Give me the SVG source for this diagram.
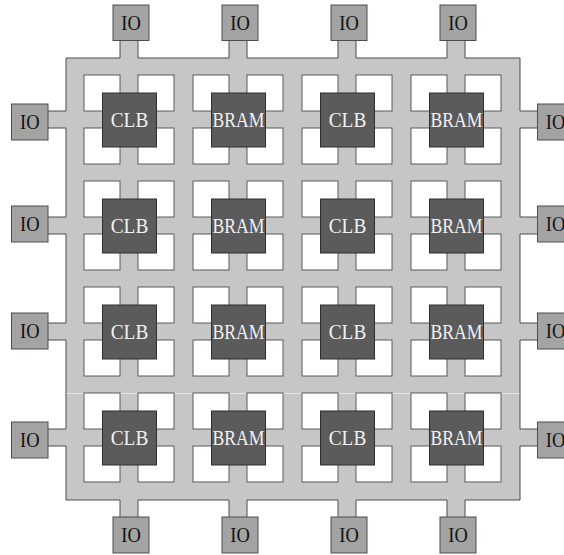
<svg xmlns="http://www.w3.org/2000/svg" xmlns:xlink="http://www.w3.org/1999/xlink" width="564" height="555" viewBox="0 0 564 555">
<style>
.fab{fill:#c6c6c6;stroke:#4d4d4d;stroke-width:1}
.hole{fill:#ffffff;stroke:#5a5a5a;stroke-width:1}
.blk{fill:#5b5b5b;stroke:#2e2e2e;stroke-width:1}
.io{fill:#a3a3a3;stroke:#4d4d4d;stroke-width:1}
.t{font-family:"Liberation Serif","Times New Roman",serif;text-anchor:middle}
.tw{fill:#f2f2f2;font-size:21px}
.tk{fill:#111111;font-size:20px}
</style>
<defs>
<g id="cell">
<rect class="hole" x="-45" y="-44.5" width="36" height="36"/>
<rect class="hole" x="9" y="-44.5" width="36" height="36"/>
<rect class="hole" x="-45" y="8.5" width="36" height="36"/>
<rect class="hole" x="9" y="8.5" width="36" height="36"/>
</g>
</defs>
<g id="connectors">
<path class="fab" d="M66,58 L120,58 L120,38 L138,38 L138,58 L229,58 L229,38 L247,38 L247,58 L338,58 L338,38 L356,38 L356,58 L447,58 L447,38 L465,38 L465,58 L520,58 L520,111 L540,111 L540,128 L520,128 L520,217 L540,217 L540,234 L520,234 L520,323 L540,323 L540,340 L520,340 L520,429 L540,429 L540,446 L520,446 L520,500 L465,500 L465,520 L447,520 L447,500 L356,500 L356,520 L338,520 L338,500 L247,500 L247,520 L229,520 L229,500 L138,500 L138,520 L120,520 L120,500 L66,500 L66,446 L46,446 L46,429 L66,429 L66,340 L46,340 L46,323 L66,323 L66,234 L46,234 L46,217 L66,217 L66,128 L46,128 L46,111 L66,111 Z"/>
<line x1="66.5" y1="393.5" x2="519.5" y2="393.5" stroke="#e4e4e4" stroke-width="1"/>
<use xlink:href="#cell" x="129" y="119.5"/>
<use xlink:href="#cell" x="238" y="119.5"/>
<use xlink:href="#cell" x="347" y="119.5"/>
<use xlink:href="#cell" x="456" y="119.5"/>
<use xlink:href="#cell" x="129" y="225.5"/>
<use xlink:href="#cell" x="238" y="225.5"/>
<use xlink:href="#cell" x="347" y="225.5"/>
<use xlink:href="#cell" x="456" y="225.5"/>
<use xlink:href="#cell" x="129" y="331.5"/>
<use xlink:href="#cell" x="238" y="331.5"/>
<use xlink:href="#cell" x="347" y="331.5"/>
<use xlink:href="#cell" x="456" y="331.5"/>
<use xlink:href="#cell" x="129" y="437.5"/>
<use xlink:href="#cell" x="238" y="437.5"/>
<use xlink:href="#cell" x="347" y="437.5"/>
<use xlink:href="#cell" x="456" y="437.5"/>
</g>
<!-- logic blocks -->
<g id="clb11"><rect class="blk" x="102.5" y="93" width="54" height="54"/><text class="t tw" x="129.5" y="127" textLength="37.5" lengthAdjust="spacingAndGlyphs">CLB</text></g>
<g id="bram12"><rect class="blk" x="211.5" y="93" width="54" height="54"/><text class="t tw" x="238.5" y="127" textLength="52" lengthAdjust="spacingAndGlyphs">BRAM</text></g>
<g id="clb13"><rect class="blk" x="320.5" y="93" width="54" height="54"/><text class="t tw" x="347.5" y="127" textLength="37.5" lengthAdjust="spacingAndGlyphs">CLB</text></g>
<g id="bram14"><rect class="blk" x="429.5" y="93" width="54" height="54"/><text class="t tw" x="456.5" y="127" textLength="52" lengthAdjust="spacingAndGlyphs">BRAM</text></g>
<g id="clb21"><rect class="blk" x="102.5" y="199" width="54" height="54"/><text class="t tw" x="129.5" y="233" textLength="37.5" lengthAdjust="spacingAndGlyphs">CLB</text></g>
<g id="bram22"><rect class="blk" x="211.5" y="199" width="54" height="54"/><text class="t tw" x="238.5" y="233" textLength="52" lengthAdjust="spacingAndGlyphs">BRAM</text></g>
<g id="clb23"><rect class="blk" x="320.5" y="199" width="54" height="54"/><text class="t tw" x="347.5" y="233" textLength="37.5" lengthAdjust="spacingAndGlyphs">CLB</text></g>
<g id="bram24"><rect class="blk" x="429.5" y="199" width="54" height="54"/><text class="t tw" x="456.5" y="233" textLength="52" lengthAdjust="spacingAndGlyphs">BRAM</text></g>
<g id="clb31"><rect class="blk" x="102.5" y="305" width="54" height="54"/><text class="t tw" x="129.5" y="339" textLength="37.5" lengthAdjust="spacingAndGlyphs">CLB</text></g>
<g id="bram32"><rect class="blk" x="211.5" y="305" width="54" height="54"/><text class="t tw" x="238.5" y="339" textLength="52" lengthAdjust="spacingAndGlyphs">BRAM</text></g>
<g id="clb33"><rect class="blk" x="320.5" y="305" width="54" height="54"/><text class="t tw" x="347.5" y="339" textLength="37.5" lengthAdjust="spacingAndGlyphs">CLB</text></g>
<g id="bram34"><rect class="blk" x="429.5" y="305" width="54" height="54"/><text class="t tw" x="456.5" y="339" textLength="52" lengthAdjust="spacingAndGlyphs">BRAM</text></g>
<g id="clb41"><rect class="blk" x="102.5" y="411" width="54" height="54"/><text class="t tw" x="129.5" y="445" textLength="37.5" lengthAdjust="spacingAndGlyphs">CLB</text></g>
<g id="bram42"><rect class="blk" x="211.5" y="411" width="54" height="54"/><text class="t tw" x="238.5" y="445" textLength="52" lengthAdjust="spacingAndGlyphs">BRAM</text></g>
<g id="clb43"><rect class="blk" x="320.5" y="411" width="54" height="54"/><text class="t tw" x="347.5" y="445" textLength="37.5" lengthAdjust="spacingAndGlyphs">CLB</text></g>
<g id="bram44"><rect class="blk" x="429.5" y="411" width="54" height="54"/><text class="t tw" x="456.5" y="445" textLength="52" lengthAdjust="spacingAndGlyphs">BRAM</text></g>
<!-- IO top -->
<g id="io-t1"><rect class="io" x="113" y="5" width="36" height="35.5"/><text class="t tk" x="131" y="29.5" textLength="19.5" lengthAdjust="spacingAndGlyphs">IO</text></g>
<g id="io-t2"><rect class="io" x="222" y="5" width="36" height="35.5"/><text class="t tk" x="240" y="29.5" textLength="19.5" lengthAdjust="spacingAndGlyphs">IO</text></g>
<g id="io-t3"><rect class="io" x="331" y="5" width="36" height="35.5"/><text class="t tk" x="349" y="29.5" textLength="19.5" lengthAdjust="spacingAndGlyphs">IO</text></g>
<g id="io-t4"><rect class="io" x="440" y="5" width="36" height="35.5"/><text class="t tk" x="458" y="29.5" textLength="19.5" lengthAdjust="spacingAndGlyphs">IO</text></g>
<!-- IO bottom -->
<g id="io-b1"><rect class="io" x="113" y="517" width="36" height="36"/><text class="t tk" x="131" y="542" textLength="19.5" lengthAdjust="spacingAndGlyphs">IO</text></g>
<g id="io-b2"><rect class="io" x="222" y="517" width="36" height="36"/><text class="t tk" x="240" y="542" textLength="19.5" lengthAdjust="spacingAndGlyphs">IO</text></g>
<g id="io-b3"><rect class="io" x="331" y="517" width="36" height="36"/><text class="t tk" x="349" y="542" textLength="19.5" lengthAdjust="spacingAndGlyphs">IO</text></g>
<g id="io-b4"><rect class="io" x="440" y="517" width="36" height="36"/><text class="t tk" x="458" y="542" textLength="19.5" lengthAdjust="spacingAndGlyphs">IO</text></g>
<!-- IO left -->
<g id="io-l1"><rect class="io" x="11.5" y="104" width="36.5" height="36"/><text class="t tk" x="29.75" y="129" textLength="19.5" lengthAdjust="spacingAndGlyphs">IO</text></g>
<g id="io-l2"><rect class="io" x="11.5" y="206" width="36.5" height="36"/><text class="t tk" x="29.75" y="231" textLength="19.5" lengthAdjust="spacingAndGlyphs">IO</text></g>
<g id="io-l3"><rect class="io" x="11.5" y="313" width="36.5" height="36"/><text class="t tk" x="29.75" y="338" textLength="19.5" lengthAdjust="spacingAndGlyphs">IO</text></g>
<g id="io-l4"><rect class="io" x="11.5" y="422" width="36.5" height="36"/><text class="t tk" x="29.75" y="447" textLength="19.5" lengthAdjust="spacingAndGlyphs">IO</text></g>
<!-- IO right -->
<g id="io-r1"><rect class="io" x="537.5" y="104" width="36" height="36"/><text class="t tk" x="555.5" y="129" textLength="19.5" lengthAdjust="spacingAndGlyphs">IO</text></g>
<g id="io-r2"><rect class="io" x="537.5" y="206" width="36" height="36"/><text class="t tk" x="555.5" y="231" textLength="19.5" lengthAdjust="spacingAndGlyphs">IO</text></g>
<g id="io-r3"><rect class="io" x="537.5" y="313" width="36" height="36"/><text class="t tk" x="555.5" y="338" textLength="19.5" lengthAdjust="spacingAndGlyphs">IO</text></g>
<g id="io-r4"><rect class="io" x="537.5" y="422" width="36" height="36"/><text class="t tk" x="555.5" y="447" textLength="19.5" lengthAdjust="spacingAndGlyphs">IO</text></g>
</svg>
